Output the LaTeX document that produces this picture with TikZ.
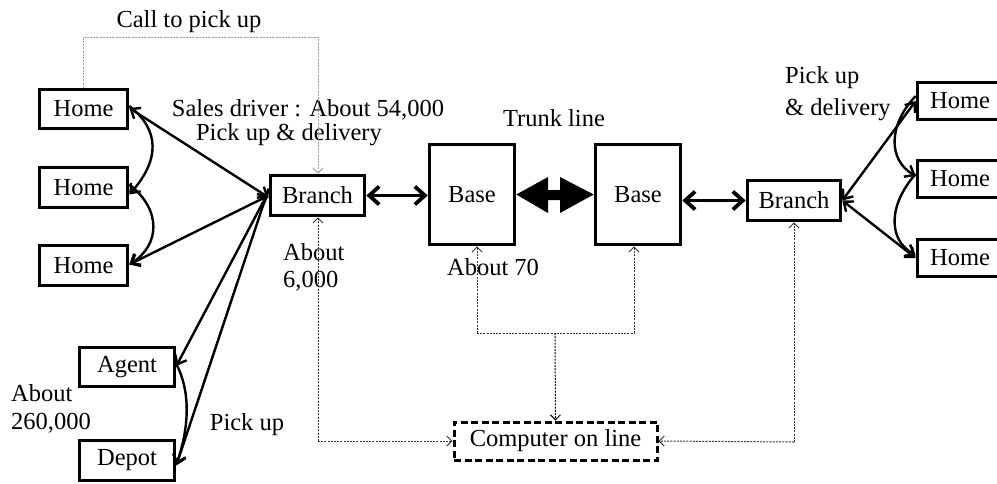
\documentclass[tikz,border=0pt]{standalone}
\usepackage{fontspec}
\setmainfont{Liberation Serif}
\usetikzlibrary{arrows.meta}
\begin{document}
\begin{tikzpicture}[x=1pt,y=-1pt,
  txt/.style={inner sep=0pt,font=\fontsize{24.5}{30}\selectfont},
  box/.style={draw,line width=3.6pt,inner sep=0pt,font=\fontsize{24.5}{30}\selectfont},
  conn/.style={line width=2.4pt,{Straight Barb[length=8pt,width=13pt]}-{Straight Barb[length=8pt,width=13pt]}},
  conn1/.style={line width=2.4pt,-{Straight Barb[length=8pt,width=13pt]}},
  thickconn/.style={line width=3.8pt,{Straight Barb[length=10pt,width=18pt]}-{Straight Barb[length=10pt,width=18pt]}},
  dots/.style={line width=1pt,gray!40!black,dash pattern=on 2pt off 1.2pt},
  dtip/.style={-{Straight Barb[length=5pt,width=10pt]}}
]
\useasboundingbox (0,0) rectangle (997,483);
\fill[white] (0,0) rectangle (997,483);

% left homes
\node[box,minimum width=88,minimum height=39] (h1) at (83.5,109) {Home};
\node[box,minimum width=88,minimum height=40] (h2) at (83.5,187.5) {Home};
\node[box,minimum width=88,minimum height=40] (h3) at (83.5,265.5) {Home};
\node[box,minimum width=95,minimum height=39] (ag) at (127,367) {Agent};
\node[box,minimum width=95,minimum height=40] (dp) at (127,460.5) {Depot};

\node[box,minimum width=94,minimum height=40] (bl) at (317.5,195.5) {Branch};
\node[box,minimum width=85,minimum height=100] (b1) at (472,194.5) {Base};
\node[box,minimum width=85,minimum height=100] (b2) at (638,194.5) {Base};
\node[box,minimum width=93,minimum height=40] (br) at (794,200.5) {Branch};

\node[box,minimum width=85,minimum height=37] (r1) at (960,101) {Home};
\node[box,minimum width=85,minimum height=37] (r2) at (960,179) {Home};
\node[box,minimum width=85,minimum height=37] (r3) at (960,258) {Home};

\node[draw,line width=3pt,dash pattern=on 7pt off 3.5pt,inner sep=0pt,minimum width=203,minimum height=38,font=\fontsize{24.5}{30}\selectfont] (comp) at (555.5,441) {Computer on line};

% texts
\node[txt] (tcall) at (189,22) {Call to pick up};
\node[txt] (tsales) at (308,110) {Sales driver : About 54,000};
\node[txt] (tpud) at (289,135) {Pick up \& delivery};
\node[txt,anchor=west] (t6a) at (283,252) {About};
\node[txt,anchor=west] (t6b) at (283,281) {6,000};
\node[txt] (t70) at (493,267) {About 70};
\node[txt] (ttrunk) at (554,118) {Trunk line};
\node[txt,anchor=west] (tpr1) at (785,78) {Pick up};
\node[txt,anchor=west] (tpr2) at (785,110) {\& delivery};
\node[txt,anchor=west] (t26a) at (11,393) {About};
\node[txt,anchor=west] (t26b) at (11,423) {260,000};
\node[txt] (tpl) at (247,425) {Pick up};

% left connectors
\draw[conn] ([yshift=1pt]h1.east) -- ([yshift=-2pt]bl.west);
\draw[conn] ([yshift=1pt]h3.east) -- (bl.west);
\draw[conn1] ([yshift=3pt]h1.east) .. controls (160,130) and (160,160) .. ([yshift=-7pt]h2.east);
\draw[conn1] ([yshift=3pt]h2.east) .. controls (162,210) and (160,245) .. ([yshift=1pt]h3.east);
\draw[conn1] ([yshift=4pt]bl.west) -- ([yshift=1pt]ag.east);
\draw[conn1] ([yshift=7pt]bl.west) -- ([yshift=-5pt]dp.east);
\draw[conn1] ([yshift=3pt]ag.east) .. controls (190,390) and (190,425) .. ([yshift=-4pt]dp.east);

% thick
\draw[thickconn] (bl.east) -- (b1.west |- bl.east);
\draw[thickconn] (b2.east |- br.west) -- (br.west);
\fill (b1.east) -- (548,177) -- (548,190) -- (560,190) -- (560,177) -- (b2.west) -- (560,213) -- (560,200) -- (548,200) -- (548,213) -- cycle;

% right connectors
\draw[conn] (br.east) -- (r1.west);
\draw[conn] (br.east) -- (r3.west);
\draw[conn1] ([yshift=5pt]r1.west) .. controls (888,125) and (888,160) .. ([yshift=3pt]r2.west);
\draw[conn1] ([yshift=5pt]r2.west) .. controls (888,205) and (888,240) .. ([yshift=3pt]r3.west);

% dotted
\coordinate (c1) at (83,37);
\coordinate (c2) at (318,37);
\draw[dots,gray!80,dtip] (h1.north -| c1) -- (c1) -- (c2) -- (bl.north -| c2);
\coordinate (c3) at (318,441);
\draw[dots,dtip] (c3) -- (comp.west);
\draw[dots,dtip] (c3) -- (bl.south -| c3);
\coordinate (c4) at (477,333);
\coordinate (c5) at (634,333);
\coordinate (c6) at (555,333);
\draw[dots,dtip] (c4) -- (b1.south -| c4);
\draw[dots,dtip] (c4) -- (c5) -- (b2.south -| c5);
\draw[dots,black,dtip] (c6) -- (comp.north);
\coordinate (c7) at (794,442);
\draw[dots,dtip] (c7) -- (comp.east);
\draw[dots,dtip] (c7) -- (br.south);
\end{tikzpicture}
\end{document}
